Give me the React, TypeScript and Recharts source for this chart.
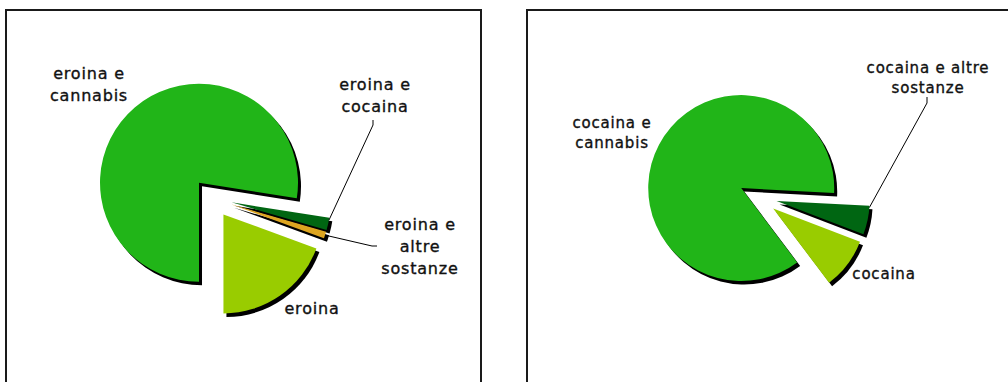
import { PieChart, Pie, Cell, Sector } from "recharts";

// left pie: eroina
const leftNames = ["eroina e cannabis", "eroina", "eroina e altre sostanze", "eroina e cocaina"];
const leftValues = [77.5, 19.4, 1.1, 2.0];
const leftLabels = [["eroina e", "cannabis"], ["eroina"], ["eroina e", "altre", "sostanze"], ["eroina e", "cocaina"]];
const leftColors = ["#21B518", "#99CC00", "#DDA520", "#006612"];

// right pie: cocaina
const rightNames = ["cocaina e cannabis", "cocaina", "cocaina e altre sostanze"];
const rightValues = [86.1, 8.9, 5.0];
const rightLabels = [["cocaina e", "cannabis"], ["cocaina"], ["cocaina e altre", "sostanze"]];
const rightColors = ["#21B518", "#99CC00", "#006612"];

const RAD = Math.PI / 180;
const SHADOW_X = 3;
const SHADOW_Y = 3.5;

type LabelPos = { x: number; y: number; lead?: [number, number][]; at?: number };

const leftLabelPos: LabelPos[] = [
  { x: 89, y: 79 },
  { x: 312, y: 314 },
  { x: 420, y: 230, lead: [[377, 246], [372, 246]], at: 0.5 },
  { x: 375, y: 90, lead: [[373, 120], [373, 125]], at: 0.8 },
];

const rightLabelPos: LabelPos[] = [
  { x: 108, y: 128 },
  { x: 380, y: 279 },
  { x: 424, y: 73, lead: [[423, 97], [423, 103]], at: 0.94 },
];

const explodedShape = (dist: number, shadow: boolean) => (props: any) => {
  const { cx, cy, midAngle, innerRadius, outerRadius, startAngle, endAngle } = props;
  const ox = dist * Math.cos(-midAngle * RAD) + (shadow ? SHADOW_X : 0);
  const oy = dist * Math.sin(-midAngle * RAD) + (shadow ? SHADOW_Y : 0);
  const fill = shadow ? "#000" : props.payload?.fill ?? props.fill;
  return (
    <Sector
      cx={cx + ox}
      cy={cy + oy}
      innerRadius={innerRadius}
      outerRadius={outerRadius}
      startAngle={startAngle}
      endAngle={endAngle}
      fill={fill}
      stroke="none"
    />
  );
};

const makeLabel =
  (lines: string[][], pos: LabelPos[], dist: number, fontSize: number, lineH: number) =>
  (props: any) => {
    const { cx, cy, midAngle, startAngle, endAngle, outerRadius, index } = props;
    const p = pos[index];
    if (!p) return null;
    let lead = null;
    if (p.lead) {
      const ex = cx + dist * Math.cos(-midAngle * RAD);
      const ey = cy + dist * Math.sin(-midAngle * RAD);
      const a = startAngle + (endAngle - startAngle) * (p.at ?? 0.5);
      const ax = ex + outerRadius * Math.cos(-a * RAD);
      const ay = ey + outerRadius * Math.sin(-a * RAD);
      const pts = [...p.lead, [ax, ay]].map((q) => q.join(",")).join(" ");
      lead = <polyline points={pts} fill="none" stroke="#000" strokeWidth={1} />;
    }
    return (
      <g>
        {lead}
        <text
          x={p.x}
          y={p.y}
          textAnchor="middle"
          fontFamily="DejaVu Sans, Verdana, sans-serif"
          fontSize={fontSize}
          letterSpacing={0.8}
          fill="#111"
          stroke="#111"
          strokeWidth={0.35}
        >
          {lines[index].map((l, i) => (
            <tspan key={i} x={p.x} y={p.y + i * lineH}>
              {l}
            </tspan>
          ))}
        </text>
      </g>
    );
  };

const boxStyle = (left: number, width: number): React.CSSProperties => ({
  position: "absolute",
  left,
  top: 9,
  width,
  height: 420,
  border: "2px solid #1a1a1a",
  boxSizing: "border-box",
});

const PieBlock = ({
  names,
  values,
  colors,
  labels,
  pos,
  cx,
  cy,
  r,
  dist,
  startAngle,
  fontSize,
  lineH,
  left,
}: {
  names: string[];
  values: number[];
  colors: string[];
  labels: string[][];
  pos: LabelPos[];
  cx: number;
  cy: number;
  r: number;
  dist: number;
  startAngle: number;
  fontSize: number;
  lineH: number;
  left: number;
}) => {
  const data = names.map((name, i) => ({ name, value: values[i], fill: colors[i] }));
  return (
    <div style={{ position: "absolute", left, top: 0 }}>
      <PieChart width={504} height={382} margin={{ top: 0, right: 0, bottom: 0, left: 0 }}>
        <Pie
          data={data}
          dataKey="value"
          nameKey="name"
          cx={cx}
          cy={cy}
          outerRadius={r}
          startAngle={startAngle}
          endAngle={startAngle + 360}
          stroke="none"
          isAnimationActive={false}
          shape={explodedShape(dist, true)}
        >
          {data.map((d) => (
            <Cell key={d.name} fill="#000" />
          ))}
        </Pie>
        <Pie
          data={data}
          dataKey="value"
          nameKey="name"
          cx={cx}
          cy={cy}
          outerRadius={r}
          startAngle={startAngle}
          endAngle={startAngle + 360}
          stroke="none"
          isAnimationActive={false}
          shape={explodedShape(dist, false)}
          labelLine={false}
          label={makeLabel(labels, pos, dist, fontSize, lineH)}
        >
          {data.map((d) => (
            <Cell key={d.name} fill={d.fill} />
          ))}
        </Pie>
      </PieChart>
    </div>
  );
};

export default function App() {
  return (
    <div
      style={{
        position: "absolute",
        left: 0,
        top: 0,
        width: 1008,
        height: 382,
        overflow: "hidden",
        background: "#fff",
      }}
    >
      <div style={boxStyle(5, 477)} />
      <div style={boxStyle(526, 520)} />
      <PieBlock
        names={leftNames}
        values={leftValues}
        colors={leftColors}
        labels={leftLabels}
        pos={leftLabelPos}
        cx={212}
        cy={198}
        r={99}
        dist={20}
        startAngle={-9}
        fontSize={16}
        lineH={22}
        left={0}
      />
      <PieBlock
        names={rightNames}
        values={rightValues}
        colors={rightColors}
        labels={rightLabels}
        pos={rightLabelPos}
        cx={254}
        cy={197}
        r={93}
        dist={19}
        startAngle={-3}
        fontSize={15}
        lineH={20}
        left={504}
      />
    </div>
  );
}
